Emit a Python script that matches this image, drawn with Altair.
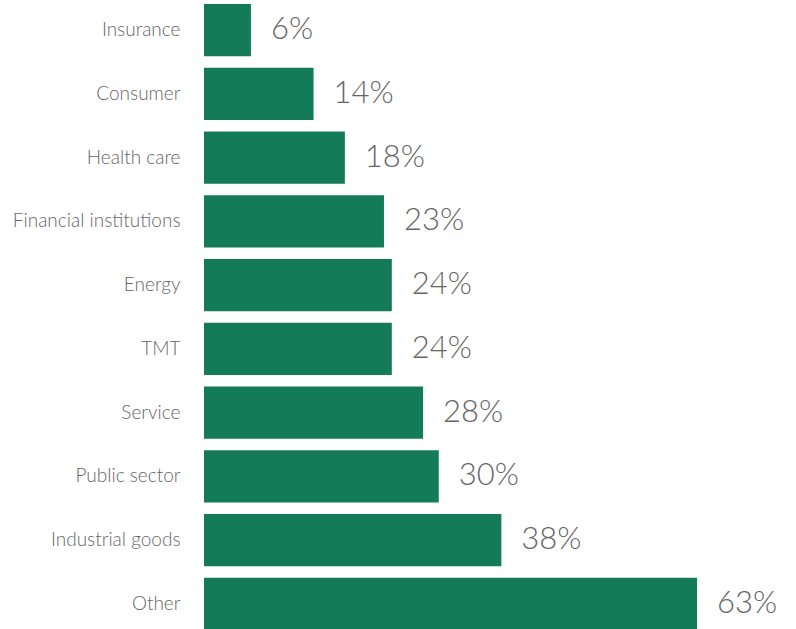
import altair as alt
import pandas as pd

categories = ["Insurance", "Consumer", "Health care", "Financial institutions", "Energy",
              "TMT", "Service", "Public sector", "Industrial goods", "Other"]
values = [6, 14, 18, 23, 24, 24, 28, 30, 38, 63]
labels = ["6%", "14%", "18%", "23%", "24%", "24%", "28%", "30%", "38%", "63%"]

df = pd.DataFrame({"category": categories, "value": values, "label": labels})

y = alt.Y("category:N", sort=categories, title=None,
          scale=alt.Scale(paddingInner=0.18, paddingOuter=0),
          axis=alt.Axis(domain=False, ticks=False, grid=False, labelPadding=24, labelFontSize=19,
                        labelFont="Lato", labelFontWeight=300, labelColor="#666666",
                        labelLimit=300))
x = alt.X("value:Q", title=None, scale=alt.Scale(domain=[0, 75.65], nice=False), axis=None)

bars = alt.Chart(df).mark_bar(color="#147B58").encode(x=x, y=y)
text = alt.Chart(df).mark_text(align="left", baseline="middle", dx=20, fontSize=31,
                               font="Lato", fontWeight=300, color="#666666").encode(
    x=x, y=y, text="label:N")

chart = (bars + text).properties(
    width=592, height=626,
    background="white",
    autosize=alt.AutoSizeParams(type="none"),
    padding={"left": 204, "top": 4, "right": 0, "bottom": 0},
).configure_view(strokeWidth=0, stroke=None)

chart.save("out.html", embed_options={"renderer": "svg", "actions": False})
